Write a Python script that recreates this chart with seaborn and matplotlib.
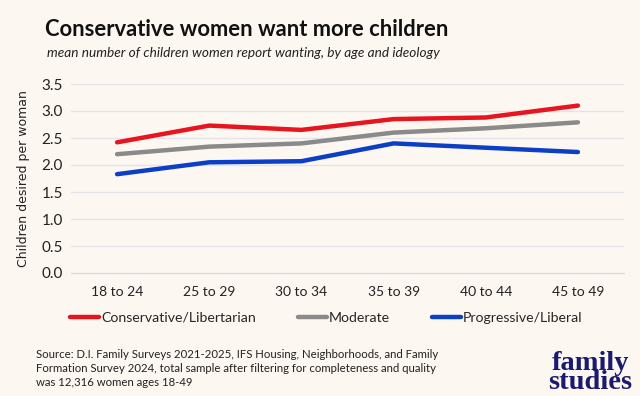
import pandas as pd
import matplotlib.pyplot as plt
import seaborn as sns

# data
ages = ["18 to 24", "25 to 29", "30 to 34", "35 to 39", "40 to 44", "45 to 49"]
conservative = [2.42, 2.73, 2.65, 2.85, 2.88, 3.10]
moderate = [2.20, 2.34, 2.40, 2.60, 2.68, 2.79]
progressive = [1.83, 2.05, 2.07, 2.40, 2.32, 2.24]
groups = ["Conservative/Libertarian", "Moderate", "Progressive/Liberal"]
colors = ["#e8141e", "#8a8a8a", "#0b3fc6"]
yticks = [0.0, 0.5, 1.0, 1.5, 2.0, 2.5, 3.0, 3.5]

df = pd.DataFrame({
    "age": ages * 3,
    "value": conservative + moderate + progressive,
    "group": [g for g in groups for _ in ages],
})
df["x"] = df["age"].map({a: i for i, a in enumerate(ages)})

bg = "#fdf7f2"
sns.set_style("white")
plt.rcParams["font.family"] = ["Lato", "DejaVu Sans"]

fig = plt.figure(figsize=(6.4, 3.96), dpi=100, facecolor=bg)
ax = fig.add_axes([71 / 640, 1 - 273 / 396, (624 - 71) / 640, (273 - 84) / 396])
ax.set_facecolor(bg)

sns.lineplot(data=df, x="x", y="value", hue="group", hue_order=groups,
             palette=colors, linewidth=3.2, ax=ax, legend=False)

ax.set_xlim(-0.5, len(ages) - 0.5)
ax.set_ylim(0, 3.5)
ax.set_yticks(yticks)
ax.set_yticklabels([f"{v:.1f}" for v in yticks], fontsize=11, color="#222222")
ax.set_xticks(range(len(ages)))
ax.set_xticklabels(ages, fontsize=10, color="#222222")
ax.tick_params(axis="x", length=0, pad=9)
ax.tick_params(axis="y", length=0, pad=6)
ax.set_xticks([i - 0.5 for i in range(len(ages) + 1)], minor=True)
ax.tick_params(axis="x", which="minor", length=5, color="#d9d9e3")
ax.grid(axis="y", color="#e3e3ec", linewidth=1)
for s in ["top", "right", "left"]:
    ax.spines[s].set_visible(False)
ax.spines["bottom"].set_color("#d9d9e3")
ax.set_xlabel("")
ax.set_ylabel("Children desired per woman", fontsize=9, color="#222222",
              family=["DejaVu Sans"], labelpad=8)

# legend
handles = [plt.Line2D([0], [0], color=c, linewidth=3.2) for c in colors]
fig.legend(handles, groups, loc="center", bbox_to_anchor=(0.51, 1 - 318 / 396),
           ncol=3, frameon=False, fontsize=10.2, handlelength=2.0,
           handletextpad=0.15, columnspacing=3.0)

# titles
fig.text(45 / 640, 1 - 36 / 396, "Conservative women want more children",
         fontsize=15.8, fontweight="bold", color="#111111", va="baseline")
fig.text(47 / 640, 1 - 57 / 396,
         "mean number of children women report wanting, by age and ideology",
         fontsize=9.8, style="italic", color="#222222", va="baseline")

# source
fig.text(36 / 640, 1 - 349 / 396,
         "Source: D.I. Family Surveys 2021-2025, IFS Housing, Neighborhoods, and Family\n"
         "Formation Survey 2024, total sample after filtering for completeness and quality\n"
         "was 12,316 women ages 18-49",
         fontsize=8.2, color="#222222", va="top", linespacing=1.35)

# logo
fig.text(590 / 640, 1 - 373 / 396, "family\nstudies", fontsize=20.5,
         fontweight="bold", family=["Liberation Serif", "DejaVu Serif"],
         color="#1a1a6e", ha="center", va="center", linespacing=0.65)

plt.savefig("out.png", dpi=100, facecolor=bg)
